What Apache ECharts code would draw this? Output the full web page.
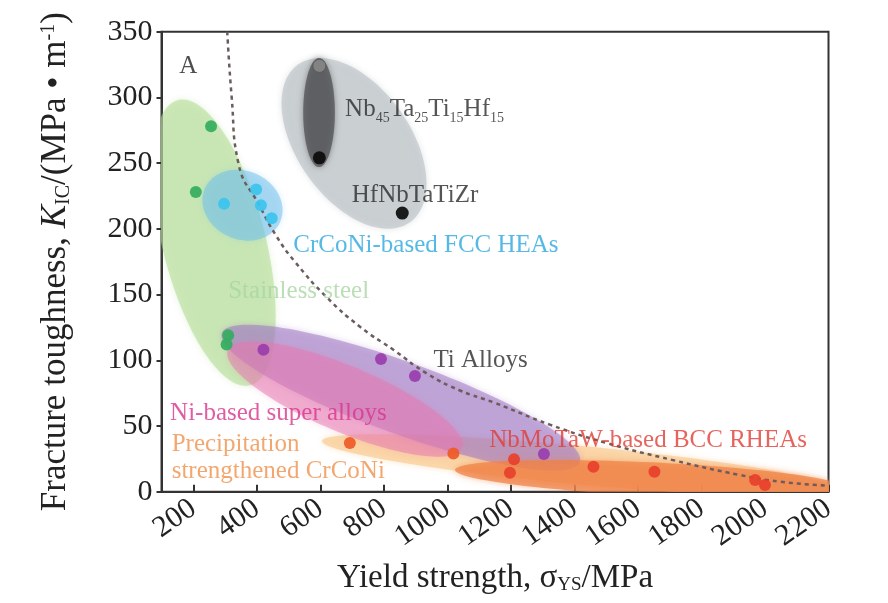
<!DOCTYPE html>
<html>
<head>
<meta charset="utf-8">
<script src="https://cdn.jsdelivr.net/npm/echarts@6/dist/echarts.min.js"></script>
<style>
  html, body { margin: 0; padding: 0; background: #fff; }
  #chart { width: 888px; height: 603px; }
</style>
</head>
<body>
<div id="chart"></div>
<script>
// tick labels
const xTicks = [200, 400, 600, 800, 1000, 1200, 1400, 1600, 1800, 2000, 2200];

// material regions: major axis end points [x1, y1, x2, y2] + minor/major ratio
const steelZone = [152, 298, 379, 81, 0.35];
const fccZone = [237, 231, 473, 205, 0.83];
const refractoryZone = [530, 325, 882, 205, 0.585];
const nbTaZone = [596, 330, 596, 247, 0.29];
const precipZone = [605, 38.6, 2220, 2.0, 0.075];
const tiZone = [290, 120.7, 1417, 22.6, 0.19];
const niZone = [309, 107.8, 1046, 33.2, 0.26];
const bccZone = [1024, 16.6, 2252, 2.8, 0.085];

// measured points [yield strength, toughness]
const steelPts = [[256, 278], [208, 228], [310, 119], [305, 112]];
const fccPts = [[297, 219], [398, 230], [413, 218], [447, 208]];
const nbTaTopPts = [[597, 324]];
const hfPts = [[597, 254], [858, 212]];
const tiPts = [[421, 108], [791, 101], [898, 88], [1304, 28.7]];
const precipPts = [[693, 37], [1019, 29]];
const bccPts = [[1210, 24.6], [1197, 14.5], [1460, 19], [1652, 15.2], [1969, 8.9], [2000, 5.1]];

// dashed boundary
const boundary = [[307, 350], [321, 300], [342, 250], [410, 217], [463, 194], [520, 175],
  [620, 148], [725, 125.5], [830, 108], [935, 90], [1040, 77], [1145, 68], [1323, 51],
  [1502, 37], [1711, 24], [1921, 12.7], [2047, 7.6], [2200, 4.5]];

// label anchors (left-middle of text)
const labels = [
  { pos: [156, 323.5], text: 'A', color: '#222' },
  { pos: [678, 290.5], text: '{m|Nb}{s|45}{m|Ta}{s|25}{m|Ti}{s|15}{m|Hf}{s|15}', color: '#2b2b2b' },
  { pos: [699, 225.7], text: 'HfNbTaTiZr', color: '#2b2b2b' },
  { pos: [515, 187.5], text: 'CrCoNi-based FCC HEAs', color: '#2aa8e0' },
  { pos: [310, 152], text: 'Stainless steel', color: '#a9d6a3' },
  { pos: [956, 100], text: 'Ti Alloys', color: '#2b2b2b' },
  { pos: [127, 59.6], text: 'Ni-based super alloys', color: '#d8358d' },
  { pos: [132, 25.6], text: 'Precipitation\nstrengthened CrCoNi', color: '#f0914c' },
  { pos: [1132, 39.3], text: 'NbMoTaW-based BCC RHEAs', color: '#e03d35' }
];

const serif = 'Liberation Serif';

const zones = [
  [steelZone, 'rgba(180,220,150,0.58)'],
  [fccZone, 'rgba(110,190,235,0.5)'],
  [refractoryZone, 'rgba(190,196,200,0.68)'],
  [nbTaZone, 'rgba(80,82,84,0.75)'],
  [precipZone, 'rgba(250,205,150,0.7)'],
  [tiZone, 'rgba(160,120,195,0.55)'],
  [niZone, 'rgba(230,120,175,0.5)'],
  [bccZone, 'rgba(240,130,70,0.72)']
];

function renderEllipse(params, api) {
  const p1 = api.coord([api.value(0), api.value(1)]);
  const p2 = api.coord([api.value(2), api.value(3)]);
  const ratio = api.value(4);
  const cx = (p1[0] + p2[0]) / 2, cy = (p1[1] + p2[1]) / 2;
  const dx = p2[0] - p1[0], dy = p2[1] - p1[1];
  const a = Math.hypot(dx, dy) / 2, b = a * ratio;
  const ang = Math.atan2(dy, dx);
  const pts = [];
  for (let i = 0; i < 120; i++) {
    const t = Math.PI * 2 * i / 120;
    const ex = a * Math.cos(t), ey = b * Math.sin(t);
    pts.push([cx + ex * Math.cos(ang) - ey * Math.sin(ang), cy + ex * Math.sin(ang) + ey * Math.cos(ang)]);
  }
  const color = api.visual('color');
  return {
    type: 'polygon',
    shape: { points: pts },
    style: { fill: color, shadowBlur: 6, shadowColor: color }
  };
}

function dots(data, color, size) {
  return {
    type: 'scatter', data: data, symbolSize: size || 12, z: 4,
    itemStyle: { color: color, opacity: 0.92 }
  };
}

const chart = echarts.init(document.getElementById('chart'));

chart.setOption({
  animation: false,
  grid: {
    left: 161.5, right: 59.5, top: 31.7, bottom: 111.3,
    show: true, borderColor: '#333', borderWidth: 2, backgroundColor: 'transparent'
  },
  xAxis: {
    type: 'value', min: 100, max: 2200,
    name: 'Yield strength, σ{s|YS}/MPa', nameLocation: 'middle', nameGap: 70,
    nameTextStyle: {
      fontFamily: serif, fontSize: 33, color: '#222',
      rich: { s: { fontFamily: serif, fontSize: 19, color: '#222', verticalAlign: 'bottom', padding: [14, 0, 0, 0] } }
    },
    splitLine: { show: false },
    axisLine: { lineStyle: { color: '#333', width: 2 } },
    axisTick: { inside: true, length: 7, customValues: xTicks, lineStyle: { color: '#333', width: 2 } },
    axisLabel: {
      customValues: xTicks, rotate: 35, margin: 14,
      formatter: v => String(v),
      fontFamily: serif, fontSize: 30, color: '#222'
    }
  },
  yAxis: {
    type: 'value', min: 0, max: 350, interval: 50,
    name: 'Fracture toughness, {i|K}{s|IC}/(MPa • m{u|-1})', nameLocation: 'middle', nameGap: 88,
    nameTextStyle: {
      fontFamily: serif, fontSize: 35, color: '#222',
      rich: {
        i: { fontFamily: serif, fontSize: 35, fontStyle: 'italic', color: '#222' },
        s: { fontFamily: serif, fontSize: 20, color: '#222', verticalAlign: 'bottom', padding: [14, 0, 0, 0] },
        u: { fontFamily: serif, fontSize: 20, color: '#222', verticalAlign: 'top', padding: [0, 0, 14, 0] }
      }
    },
    splitLine: { show: false },
    axisLine: { lineStyle: { color: '#333', width: 2 } },
    axisTick: { length: 5, lineStyle: { color: '#333', width: 2 } },
    axisLabel: { margin: 9, fontFamily: serif, fontSize: 30, color: '#222' }
  },
  series: [
    {
      type: 'custom', renderItem: renderEllipse, clip: true, z: 1, silent: true,
      data: zones.map(z => ({ value: z[0], itemStyle: { color: z[1] } }))
    },
    {
      type: 'line', data: boundary, smooth: true, showSymbol: false, symbol: 'none', z: 3,
      lineStyle: { color: '#6b5d5d', width: 2.5, type: [4, 4] }
    },
    dots(steelPts, '#34ae5f'),
    dots(fccPts, '#3cc4ee'),
    dots(tiPts, '#9a3eae'),
    dots(precipPts, '#ee5a26'),
    dots(bccPts, '#e8402c'),
    dots(hfPts, '#0c0c0c', 13),
    {
      type: 'scatter', data: nbTaTopPts, symbolSize: 13, z: 4,
      itemStyle: { color: '#8c8c8c', borderColor: '#555', borderWidth: 1 }
    },
    {
      type: 'scatter', symbolSize: 0, z: 6, silent: true,
      data: labels.map(l => ({
        value: l.pos,
        label: {
          show: true, position: 'right', distance: 0, formatter: l.text,
          fontFamily: serif, fontSize: 25, color: l.color, lineHeight: 27, align: 'left',
          rich: {
            m: { fontFamily: serif, fontSize: 25, color: l.color, lineHeight: 30 },
            s: { fontFamily: serif, fontSize: 14, color: l.color, verticalAlign: 'bottom', lineHeight: 30, padding: [8, 0, 0, 0] }
          }
        }
      }))
    }
  ]
});
</script>
</body>
</html>
